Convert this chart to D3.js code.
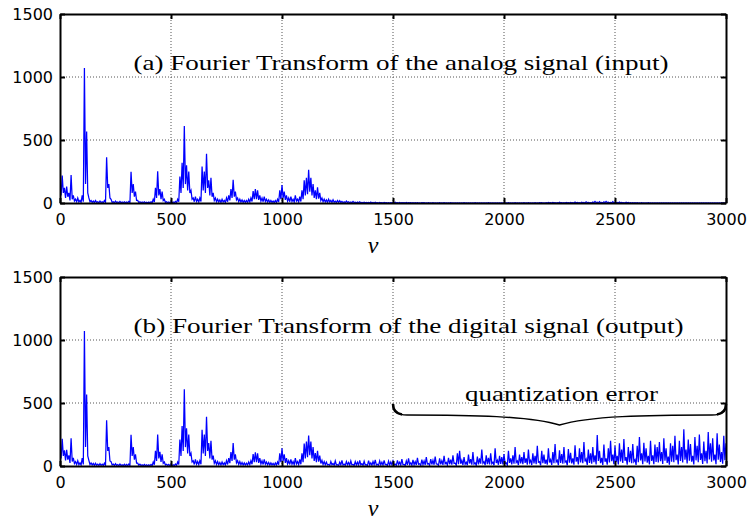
<!DOCTYPE html>
<meta charset="utf-8">
<style>
body { margin: 0; background: #fff; }
svg { display: block; background: #fff; }
.axis text { font-family: "DejaVu Sans", sans-serif; font-size: 16px; fill: #000; }
.axis path, .axis line { stroke: #000; stroke-width: 2; }
.grid line { stroke: #555; stroke-width: 1; stroke-dasharray: 1,2; }
.title { font-family: "Liberation Serif", serif; font-size: 21px; }
.nu { font-family: "Liberation Serif", serif; font-style: italic; font-size: 24px; }
</style>
<svg width="749" height="525"></svg>
<script src="https://d3js.org/d3.v7.min.js"></script>
<script>

// |FFT| magnitude read per 10-unit bin of nu (0..3000):
// peak value in the bin, and the floor the trace drops back to
var analogPeak = [
  180, 217, 120, 130, 80, 222, 60, 30, 40, 20,
  60, 1071, 568, 40, 20, 15, 20, 10, 15, 10,
  20, 362, 150, 30, 10, 15, 8, 12, 8, 10,
  8, 12, 248, 150, 90, 20, 10, 8, 10, 6,
  8, 10, 30, 120, 251, 110, 90, 30, 10, 8,
  10, 8, 12, 30, 210, 320, 611, 300, 250, 100,
  40, 50, 30, 40, 290, 250, 391, 180, 200, 80,
  40, 30, 25, 30, 20, 40, 60, 110, 185, 90,
  40, 30, 25, 20, 20, 30, 40, 95, 110, 100,
  60, 40, 50, 30, 25, 20, 15, 20, 30, 100,
  143, 90, 60, 40, 50, 30, 60, 30, 50, 100,
  180, 200, 264, 200, 150, 100, 124, 80, 40, 30,
  25, 30, 20, 25, 15, 20, 18, 12, 10, 15,
  10, 8, 12, 6, 8, 10, 5, 6, 4, 5,
  8, 4, 6, 3, 5, 2, 4, 3, 2, 3,
  3, 6, 2, 4, 3, 2, 4, 2, 3, 2,
  2, 3, 1, 2, 2, 1, 2, 1, 2, 1,
  1, 2, 1, 2, 1, 1, 2, 1, 1, 1,
  1, 1, 2, 1, 1, 1, 1, 2, 1, 1,
  1, 1, 1, 2, 1, 1, 1, 1, 1, 1,
  1, 1, 2, 1, 1, 2, 1, 1, 1, 2,
  1, 2, 1, 1, 2, 1, 3, 2, 1, 2,
  4, 2, 5, 3, 2, 6, 3, 2, 4, 3,
  5, 3, 8, 4, 3, 6, 4, 10, 5, 3,
  8, 12, 6, 10, 5, 9, 12, 7, 5, 10,
  6, 4, 8, 5, 3, 6, 4, 3, 2, 3,
  2, 1, 2, 1, 1, 2, 1, 1, 1, 1,
  1, 1, 1, 1, 1, 1, 1, 1, 1, 1,
  1, 1, 1, 1, 1, 1, 1, 1, 1, 1,
  1, 1, 1, 1, 1, 1, 1, 1, 1, 1, 1
];

var analogFloor = [
  60, 80, 40, 50, 20, 30, 15, 10, 8, 5,
  10, 150, 80, 10, 5, 3, 5, 2, 4, 2,
  5, 120, 40, 5, 2, 3, 2, 2, 2, 2,
  2, 3, 80, 50, 20, 4, 2, 2, 2, 1,
  2, 2, 8, 40, 60, 30, 20, 5, 2, 2,
  2, 2, 3, 10, 80, 120, 150, 100, 80, 30,
  10, 12, 8, 12, 100, 80, 120, 60, 50, 20,
  10, 8, 5, 8, 5, 10, 20, 40, 50, 25,
  10, 8, 5, 5, 5, 8, 12, 30, 30, 25,
  15, 10, 12, 8, 5, 5, 3, 5, 8, 30,
  40, 25, 15, 10, 12, 8, 15, 8, 12, 30,
  60, 70, 90, 60, 40, 30, 35, 20, 10, 8,
  6, 8, 5, 6, 4, 5, 4, 3, 2, 4,
  2, 2, 3, 1, 2, 2, 1, 1, 1, 1,
  1, 0, 1, 0, 1, 0, 1, 0, 0, 1,
  0, 1, 0, 0, 1, 0, 0, 1, 0, 0,
  0, 0, 0, 1, 0, 0, 0, 0, 0, 0,
  0, 0, 0, 0, 0, 0, 0, 0, 0, 0,
  0, 0, 0, 0, 0, 0, 0, 0, 0, 0,
  0, 0, 0, 0, 0, 0, 0, 0, 0, 0,
  0, 0, 0, 0, 0, 0, 0, 0, 0, 0,
  0, 0, 0, 0, 0, 0, 1, 0, 0, 0,
  1, 0, 1, 0, 0, 2, 0, 0, 1, 0,
  1, 0, 2, 1, 0, 1, 0, 3, 1, 0,
  2, 3, 1, 2, 1, 2, 3, 1, 1, 2,
  1, 0, 2, 1, 0, 1, 0, 0, 0, 0,
  0, 0, 0, 0, 0, 0, 0, 0, 0, 0,
  0, 0, 0, 0, 0, 0, 0, 0, 0, 0,
  0, 0, 0, 0, 0, 0, 0, 0, 0, 0,
  0, 0, 0, 0, 0, 0, 0, 0, 0, 0, 0
];

var digitalPeak = [
  175, 215, 125, 128, 85, 220, 65, 35, 42, 25,
  62, 1071, 568, 45, 25, 20, 22, 15, 18, 15,
  22, 362, 150, 35, 15, 18, 12, 15, 10, 14,
  12, 15, 248, 150, 92, 22, 14, 10, 12, 10,
  10, 12, 32, 120, 250, 112, 92, 32, 14, 12,
  12, 10, 15, 32, 210, 318, 610, 300, 250, 102,
  42, 52, 35, 42, 288, 250, 390, 182, 200, 82,
  42, 35, 28, 32, 25, 42, 62, 110, 182, 92,
  42, 35, 28, 25, 22, 32, 42, 95, 108, 100,
  62, 42, 52, 32, 28, 25, 20, 25, 32, 100,
  140, 92, 62, 42, 52, 35, 62, 35, 52, 100,
  178, 195, 242, 195, 150, 102, 120, 82, 45, 35,
  30, 12, 35, 20, 40, 10, 30, 45, 15, 35,
  28, 40, 12, 35, 30, 45, 18, 38, 10, 42,
  25, 35, 48, 14, 40, 30, 45, 12, 38, 32,
  40, 15, 45, 30, 55, 12, 40, 60, 25, 48,
  35, 65, 18, 50, 40, 70, 20, 55, 45, 75,
  15, 60, 42, 80, 28, 65, 50, 85, 22, 100,
  120, 45, 70, 30, 90, 55, 110, 25, 75, 60,
  130, 35, 85, 65, 100, 30, 140, 45, 80, 70,
  95, 25, 120, 60, 85, 150, 40, 90, 70, 110,
  60, 130, 45, 100, 80, 160, 35, 120, 90, 50,
  140, 50, 110, 175, 45, 125, 95, 150, 40, 135,
  105, 60, 165, 70, 140, 110, 190, 55, 130, 100,
  150, 85, 246, 120, 65, 170, 60, 140, 200, 90,
  160, 80, 180, 130, 215, 70, 150, 120, 175, 50,
  160, 230, 100, 185, 140, 80, 200, 85, 170, 150,
  190, 110, 220, 140, 75, 180, 160, 240, 90, 200,
  150, 291, 130, 210, 175, 80, 230, 160, 250, 100,
  195, 120, 270, 180, 220, 90, 260, 170, 110, 240, 180
];

var digitalFloor = [
  60, 80, 45, 50, 25, 35, 20, 12, 10, 8,
  12, 150, 80, 12, 8, 5, 6, 4, 5, 4,
  6, 120, 40, 8, 4, 5, 3, 4, 3, 3,
  3, 4, 80, 50, 22, 6, 4, 3, 3, 2,
  3, 3, 10, 40, 60, 32, 22, 8, 4, 3,
  3, 3, 5, 12, 80, 120, 150, 100, 80, 32,
  12, 14, 10, 14, 100, 80, 120, 60, 50, 22,
  12, 10, 8, 10, 8, 12, 22, 40, 50, 25,
  12, 10, 8, 8, 8, 10, 14, 30, 30, 25,
  16, 12, 14, 10, 8, 8, 6, 8, 10, 30,
  40, 25, 16, 12, 14, 10, 16, 10, 14, 30,
  60, 70, 85, 60, 40, 30, 35, 20, 12, 10,
  8, 5, 10, 6, 8, 4, 9, 7, 5, 10,
  6, 9, 4, 8, 7, 10, 5, 8, 4, 9,
  6, 10, 8, 5, 9, 7, 11, 4, 8, 10,
  8, 5, 12, 7, 10, 4, 9, 12, 6, 10,
  8, 14, 5, 11, 9, 15, 6, 12, 10, 16,
  5, 13, 9, 18, 7, 14, 11, 20, 6, 15,
  18, 8, 14, 6, 20, 10, 16, 5, 12, 18,
  22, 7, 15, 12, 19, 6, 24, 10, 16, 13,
  20, 6, 25, 12, 18, 28, 8, 20, 14, 24,
  10, 26, 8, 20, 15, 30, 6, 22, 18, 10,
  28, 8, 22, 32, 7, 25, 18, 30, 6, 26,
  20, 10, 34, 12, 28, 22, 36, 9, 25, 18,
  30, 12, 40, 22, 8, 34, 10, 28, 38, 14,
  32, 12, 36, 24, 42, 10, 30, 22, 35, 8,
  30, 44, 15, 36, 26, 12, 40, 14, 32, 28,
  38, 16, 42, 25, 10, 35, 30, 46, 12, 40,
  28, 50, 20, 42, 34, 12, 45, 30, 48, 16,
  38, 20, 52, 34, 44, 14, 50, 32, 18, 46, 35
];

var nuStep = 10;
var xTicks = [0, 500, 1000, 1500, 2000, 2500, 3000];
var yTicks = [0, 500, 1000, 1500];
var titleA = "(a) Fourier Transform of the analog signal (input)";
var titleB = "(b) Fourier Transform of the digital signal (output)";
var braceLabel = "quantization error";
var braceFrom = 1500, braceTo = 3000, braceAt = 500;

var svg = d3.select("svg");

var left = 60, right = 726, plotH = 189;

var x = d3.scaleLinear().domain([0, 3000]).range([left, right]);

var panels = [
  { top: 14, peak: analogPeak, floor: analogFloor, title: titleA, titleLen: 535 },
  { top: 277, peak: digitalPeak, floor: digitalFloor, title: titleB, titleLen: 550 }
];

panels.forEach(function(p, k) {
  var y = d3.scaleLinear().domain([0, 1500]).range([p.top + plotH, p.top]);
  var g = svg.append("g");

  // dotted grid
  var grid = g.append("g").attr("class", "grid");
  grid.selectAll(".gx").data(xTicks.slice(1, -1)).enter().append("line")
      .attr("x1", d => x(d)).attr("x2", d => x(d))
      .attr("y1", p.top).attr("y2", p.top + plotH);
  grid.selectAll(".gy").data(yTicks.slice(1, -1)).enter().append("line")
      .attr("y1", d => y(d)).attr("y2", d => y(d))
      .attr("x1", left).attr("x2", right);

  g.append("clipPath").attr("id", "clip" + k)
    .append("rect").attr("x", left).attr("y", p.top).attr("width", right - left).attr("height", plotH);

  // trace jumps from each bin's peak down to its floor
  var pts = [];
  p.peak.forEach(function(v, i) {
    pts.push([i * nuStep, v]);
    pts.push([i * nuStep + nuStep / 2, p.floor[i]]);
  });

  var line = d3.line()
      .x(d => x(d[0]))
      .y(d => y(d[1]));

  g.append("path")
      .datum(pts)
      .attr("clip-path", "url(#clip" + k + ")")
      .attr("fill", "none")
      .attr("stroke", "#0000ff")
      .attr("stroke-width", 1.25)
      .attr("d", line);

  // box with inward ticks
  g.append("g").attr("class", "axis")
      .attr("transform", "translate(0," + (p.top + plotH) + ")")
      .call(d3.axisBottom(x).tickValues(xTicks).tickSizeInner(-5).tickSizeOuter(0).tickPadding(11).tickFormat(d3.format("d")));
  g.append("g").attr("class", "axis")
      .attr("transform", "translate(0," + p.top + ")")
      .call(d3.axisTop(x).tickValues(xTicks).tickSizeInner(-5).tickSizeOuter(0).tickFormat(""));
  g.append("g").attr("class", "axis")
      .attr("transform", "translate(" + left + ",0)")
      .call(d3.axisLeft(y).tickValues(yTicks).tickSizeInner(-5).tickSizeOuter(0).tickPadding(7).tickFormat(d3.format("d")));
  g.append("g").attr("class", "axis")
      .attr("transform", "translate(" + right + ",0)")
      .call(d3.axisRight(y).tickValues(yTicks).tickSizeInner(-5).tickSizeOuter(0).tickFormat(""));

  g.append("text").attr("class", "title")
      .attr("x", 133.5).attr("y", p.top + 55.5)
      .attr("textLength", p.titleLen).attr("lengthAdjust", "spacingAndGlyphs")
      .text(p.title);

  g.append("text").attr("class", "nu")
      .attr("x", 373).attr("y", p.top + plotH + 50)
      .attr("text-anchor", "middle")
      .text("\u03bd");

  if (k === 1) {
    var x0 = x(braceFrom), x1 = x(braceTo), xm = (x0 + x1) / 2;
    var yb = y(braceAt) + 1;
    var bracePath = "M" + x0 + "," + yb +
      " Q" + x0 + "," + (yb + 11) + " " + (x0 + 14) + "," + (yb + 11) +
      " C" + (x0 + 80) + "," + (yb + 11) + " " + (xm - 30) + "," + (yb + 12) + " " + xm + "," + (yb + 21) +
      " C" + (xm + 30) + "," + (yb + 12) + " " + (x1 - 80) + "," + (yb + 11) + " " + (x1 - 14) + "," + (yb + 11) +
      " Q" + x1 + "," + (yb + 11) + " " + x1 + "," + yb;
    g.append("path").attr("d", bracePath)
      .attr("fill", "none").attr("stroke", "#000").attr("stroke-width", 1.4);
    // thicker curls at the ends
    [[x0, 1], [x1, -1]].forEach(function(e) {
      g.append("path")
        .attr("d", "M" + e[0] + "," + yb + " Q" + e[0] + "," + (yb + 9) + " " + (e[0] + e[1] * 9) + "," + (yb + 10.5))
        .attr("fill", "none").attr("stroke", "#000").attr("stroke-width", 2.6);
    });
    g.append("text").attr("class", "title")
      .attr("x", 465).attr("y", yb - 3)
      .attr("textLength", 193).attr("lengthAdjust", "spacingAndGlyphs")
      .text(braceLabel);
  }
});

</script>
